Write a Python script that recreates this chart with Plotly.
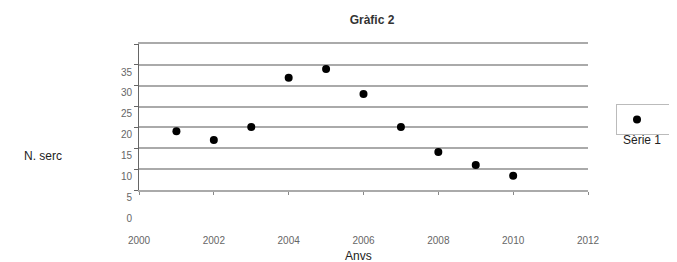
import plotly.graph_objects as go

years = [2001, 2002, 2003, 2004, 2005, 2006, 2007, 2008, 2009, 2010]
serc = [14.1, 12.0, 15.1, 26.9, 29.0, 23.0, 15.1, 9.1, 6.0, 3.4]
y_ticks = [0, 5, 10, 15, 20, 25, 30, 35]
x_ticks = [2000, 2002, 2004, 2006, 2008, 2010, 2012]
series_name = "Sèrie 1"

# the page body adds an 8px offset; compensate
W, H = 669, 254

fig = go.Figure()
fig.add_trace(go.Scatter(
    x=years, y=serc, mode="markers", name=" ",
    marker=dict(color="black", size=8, symbol="circle"),
    showlegend=True,
))

fig.update_layout(
    width=W, height=H,
    margin=dict(l=131, r=89, t=36, b=72, autoexpand=False),
    paper_bgcolor="white", plot_bgcolor="white",
    font=dict(family="Liberation Sans, Arial, sans-serif", color="#222"),
    title=dict(text="<b>Gràfic 2</b>", x=0.519, xref="paper", xanchor="center",
               y=1 - 12 / H, yanchor="middle", font=dict(size=12, color="#333")),
    xaxis=dict(range=[2000, 2012], tickvals=x_ticks, showgrid=False,
               showline=True, linecolor="#aaa", linewidth=2, mirror=True,
               ticks="outside", ticklen=3, tickcolor="#888",
               tickfont=dict(size=10, color="#666"), ticklabelstandoff=37,
               zeroline=False, automargin=False),
    yaxis=dict(range=[0, 35], tickvals=y_ticks, showgrid=True,
               gridcolor="#aaaaaa", gridwidth=2,
               showline=True, linecolor="#666", linewidth=1,
               ticks="outside", ticklen=4, tickcolor="#666",
               tickfont=dict(size=10, color="#666"), ticklabelshift=28,
               zeroline=False, automargin=False),
    legend=dict(x=(616 - 139) / 449, y=0.589, xanchor="left", yanchor="top",
                orientation="h", bordercolor="#bbb", borderwidth=1, bgcolor="white",
                font=dict(size=8), itemwidth=30, entrywidth=70),
    annotations=[
        dict(text="N. serc", xref="paper", yref="paper", x=(22 - 139) / 449,
             y=(190 - 156) / 146, xanchor="left", yanchor="middle",
             showarrow=False, font=dict(size=12, color="#222")),
        dict(text="Anvs", xref="paper", yref="paper", x=(358 - 139) / 449,
             y=(190 - 256) / 146, xanchor="center", yanchor="middle",
             showarrow=False, font=dict(size=12, color="#222")),
        dict(text=series_name, xref="paper", yref="paper", x=(621 - 139) / 449,
             y=(190 - 140) / 146, xanchor="left", yanchor="middle",
             showarrow=False, font=dict(size=12, color="#222")),
    ],
)

fig.write_html("out.html")
